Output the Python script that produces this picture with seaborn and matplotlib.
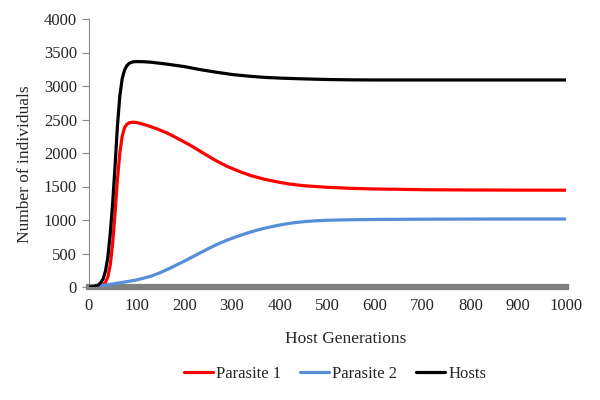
import pandas as pd
import matplotlib.pyplot as plt
import seaborn as sns

# ---- Data ----
host_gen = [0, 10, 20, 25, 30, 35, 40, 45, 50, 55, 60, 65, 70, 75, 80, 85, 92, 100, 115, 130,
            160, 200, 233, 268, 302, 338, 370, 400, 442, 500, 547, 600,
            700, 800, 900, 1000]
hosts = [0, 5, 30, 65, 120, 240, 450, 800, 1250, 1800, 2400, 2850, 3110, 3240, 3305, 3340, 3360, 3364, 3362, 3355,
         3330, 3290, 3245, 3205, 3170, 3145, 3128, 3118, 3108, 3097, 3092, 3090,
         3090, 3090, 3090, 3090]

p1_gen = [0, 20, 30, 35, 40, 45, 50, 55, 60, 65, 70, 75, 80, 85, 92, 100, 110, 125, 145, 165,
          185, 212, 240, 264, 290, 317, 340, 369, 400, 421, 450, 500, 547, 600, 652,
          700, 800, 900, 1000]
parasite1 = [0, 10, 30, 70, 150, 330, 650, 1100, 1600, 2000, 2250, 2380, 2430, 2452, 2460, 2455, 2438, 2405, 2355, 2295,
             2222, 2119, 1998, 1896, 1800, 1721, 1662, 1607, 1562, 1537, 1512, 1488, 1473, 1463, 1458,
             1452, 1448, 1446, 1445]

p2_gen = [0, 25, 50, 80, 100, 130, 150, 170, 200, 220, 250, 270, 290, 310, 330, 350, 370, 400,
          425, 450, 475, 500, 550, 600, 700, 800, 900, 1000]
parasite2 = [0, 20, 45, 80, 105, 160, 215, 280, 385, 460, 570, 640, 700, 752, 800, 843, 880, 925,
             955, 975, 988, 996, 1004, 1008, 1012, 1014, 1015, 1015]

rows = []
for g, v in zip(p1_gen, parasite1):
    rows.append(("Parasite 1", g, v))
for g, v in zip(p2_gen, parasite2):
    rows.append(("Parasite 2", g, v))
for g, v in zip(host_gen, hosts):
    rows.append(("Hosts", g, v))
df = pd.DataFrame(rows, columns=["series", "gen", "count"])

# ---- Plot ----
sns.set_style("white")
plt.rcParams['font.family'] = ['Liberation Serif', 'DejaVu Serif']

fig = plt.figure(figsize=(6, 4), dpi=100)
ax = fig.add_axes([0.148, 0.2825, 0.795, 0.67])

palette = {"Parasite 1": "#ff0000", "Parasite 2": "#568fd8", "Hosts": "#000000"}
sns.lineplot(data=df, x="gen", y="count", hue="series", palette=palette,
             linewidth=2.3, ax=ax, legend=True, zorder=3)

ax.set_xlim(0, 1000)
ax.set_ylim(0, 4000)
ax.set_xticks(range(0, 1001, 100))
ax.set_yticks(range(0, 4001, 500))
ax.tick_params(axis='both', labelsize=12)
ax.tick_params(axis='y', length=5, width=0.8, color="#888888", direction='out', left=True)
ax.tick_params(axis='x', length=0, pad=8)

for s in ["top", "right"]:
    ax.spines[s].set_visible(False)
ax.spines["left"].set_color("#888888")
ax.spines["left"].set_linewidth(0.8)
ax.spines["bottom"].set_color("#808080")
ax.spines["bottom"].set_linewidth(4.5)
ax.spines["bottom"].set_zorder(0)

ax.set_xlabel("Host Generations", fontsize=12.5, labelpad=12)
ax.set_ylabel("Number of individuals", fontsize=12.5, labelpad=8)
ax.xaxis.label.set_x(0.539)
ax.yaxis.label.set_y(0.46)

ax.legend(loc="upper center", bbox_to_anchor=(0.516, -0.24), ncol=3, frameon=False,
          fontsize=12, handlelength=1.75, columnspacing=1.1, handletextpad=0.2)

fig.savefig("out.png", dpi=100)
